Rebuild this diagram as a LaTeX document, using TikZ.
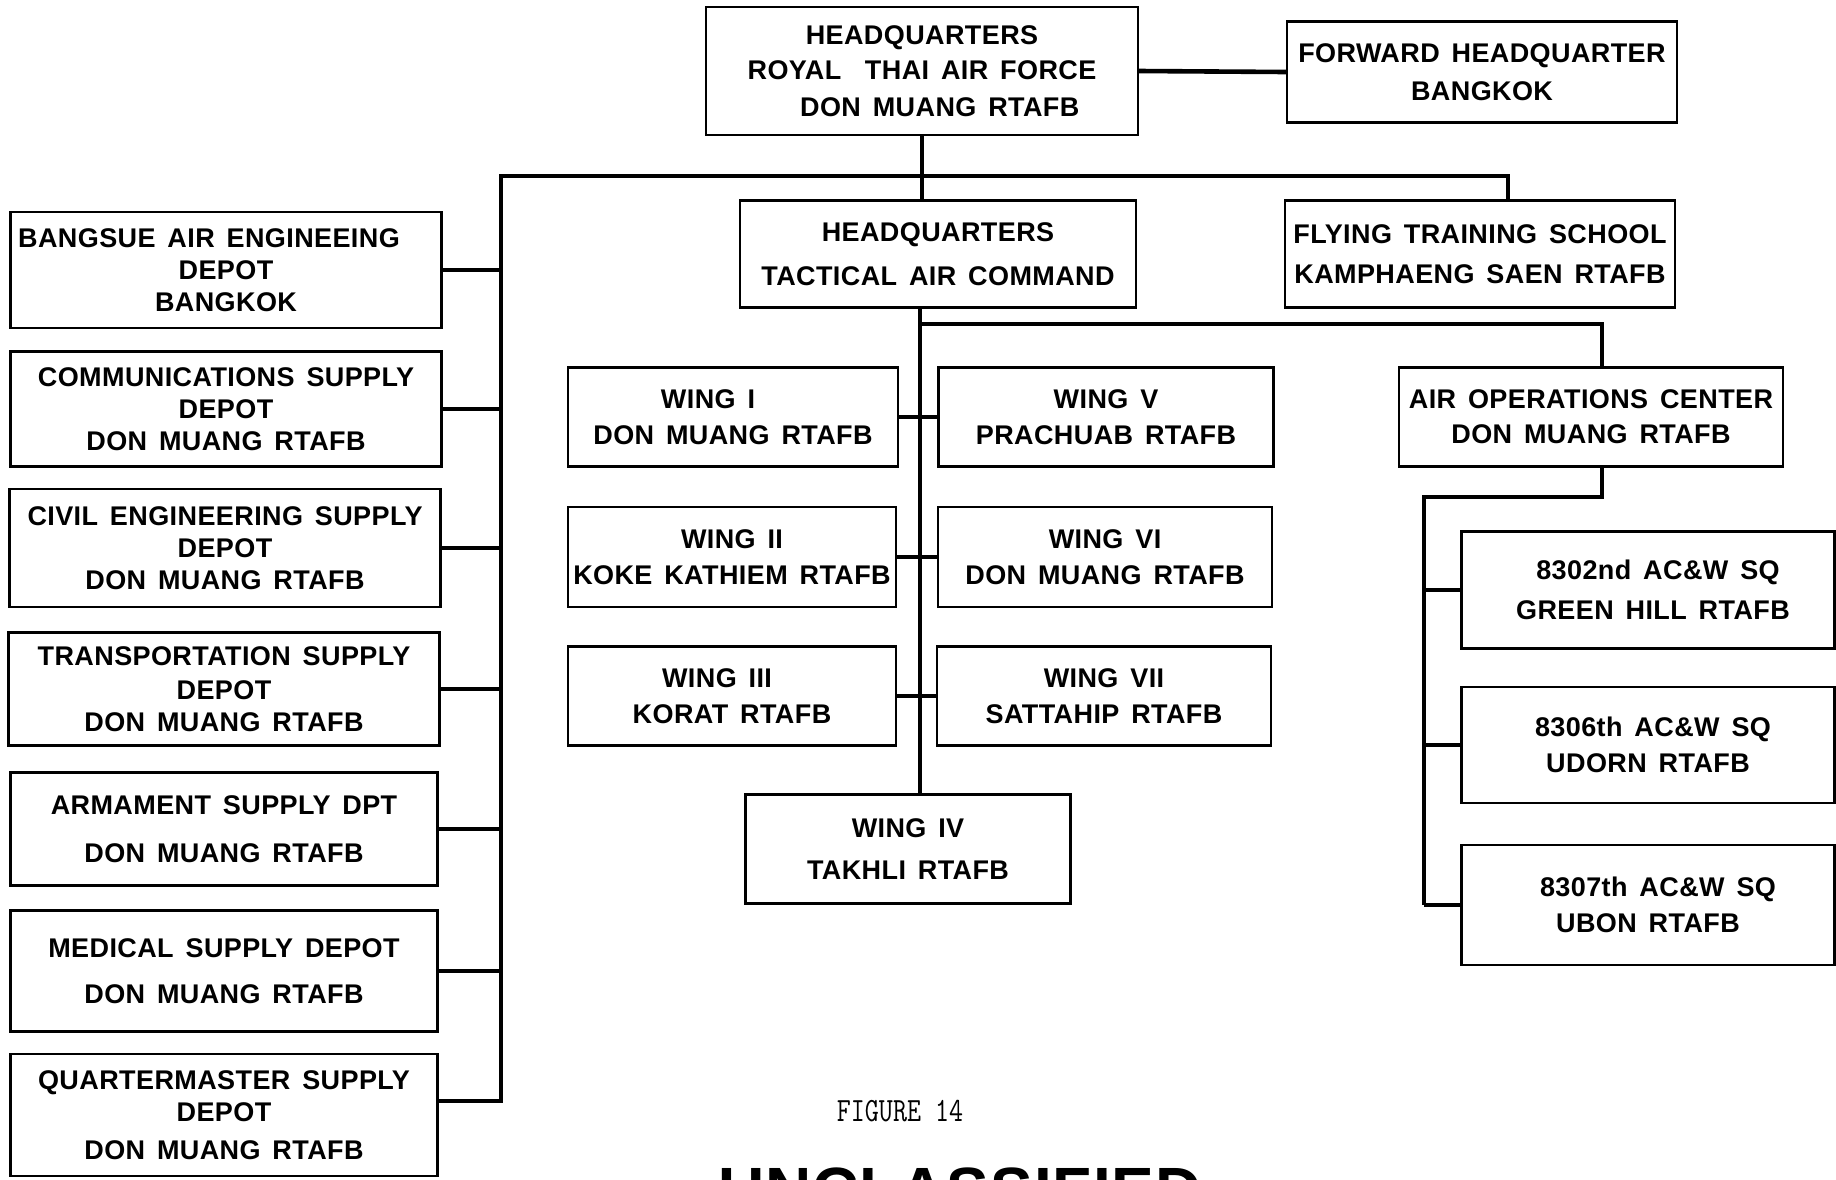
\documentclass[tikz,border=0pt]{standalone}
\usepackage{fontspec}
\setmainfont{Liberation Sans}[WordSpace=1.5, LetterSpace=1.5]
\begin{document}
\begin{tikzpicture}[
  x=1pt, y=-1pt,
  unit/.style={
    draw,
    line width=2.4pt,
    inner sep=0pt,
    align=center,
    font=\fontsize{27}{32}\selectfont\bfseries
  },
  depot/.style={unit, minimum width=431, minimum height=115},
  wing/.style={unit, minimum width=330, minimum height=99},
  squad/.style={unit, minimum width=373, minimum height=117},
  link/.style={line width=4.6pt, line join=miter}
]
\useasboundingbox[fill=white] (0,0) rectangle (1836,1179);
% top level
\node[unit, minimum width=432, minimum height=128] (hq) at (922,71)
  {HEADQUARTERS\\[3pt]ROYAL\ \ THAI AIR FORCE\\[5pt]\ \ \ DON MUANG RTAFB};
\node[unit, minimum width=390, minimum height=101] (fwd) at (1482,72)
  {FORWARD HEADQUARTER\\[6pt]BANGKOK};
\node[unit, minimum width=396, minimum height=107] (tac) at (938,254)
  {HEADQUARTERS\\[12pt]TACTICAL AIR COMMAND};
\node[unit, minimum width=390, minimum height=107] (fts) at (1480,254)
  {FLYING TRAINING SCHOOL\\[8pt]KAMPHAENG SAEN RTAFB};
% depots
\node[depot, minimum height=116] (bangsue) at (226,270)
  {BANGSUE AIR ENGINEEING\hspace*{34pt}\\DEPOT\\BANGKOK};
\node[depot] (comm) at (226,409)
  {COMMUNICATIONS SUPPLY\\DEPOT\\DON MUANG RTAFB};
\node[depot, minimum height=118] (civil) at (225,548)
  {CIVIL ENGINEERING SUPPLY\\DEPOT\\DON MUANG RTAFB};
\node[depot, minimum height=113] (trans) at (224,689)
  {TRANSPORTATION SUPPLY\\[2pt]DEPOT\\DON MUANG RTAFB};
\node[depot, minimum width=427, minimum height=113] (arm) at (224,829)
  {ARMAMENT SUPPLY DPT\\[16pt]DON MUANG RTAFB};
\node[depot, minimum width=427, minimum height=121] (med) at (224,971)
  {MEDICAL SUPPLY DEPOT\\[14pt]DON MUANG RTAFB};
\node[depot, minimum width=427, minimum height=122] (qm) at (224,1115)
  {QUARTERMASTER SUPPLY\\DEPOT\\[6pt]DON MUANG RTAFB};
% wings
\node[wing] (wing1) at (733,417) {WING I\hspace*{50pt}\\[4pt]DON MUANG RTAFB};
\node[wing, minimum width=335] (wing5) at (1106,417) {WING V\\[4pt]PRACHUAB RTAFB};
\node[wing, minimum width=328, minimum height=100] (wing2) at (732,557) {WING II\\[4pt]KOKE KATHIEM RTAFB};
\node[wing, minimum width=334, minimum height=100] (wing6) at (1105,557) {WING VI\\[4pt]DON MUANG RTAFB};
\node[wing, minimum width=328] (wing3) at (732,696) {WING III\hspace*{30pt}\\[4pt]KORAT RTAFB};
\node[wing, minimum width=334] (wing7) at (1104,696) {WING VII\\[4pt]SATTAHIP RTAFB};
\node[wing, minimum width=325, minimum height=109] (wing4) at (908,849) {WING IV\\[10pt]TAKHLI RTAFB};
% air operations
\node[unit, minimum width=384, minimum height=99] (aoc) at (1591,417)
  {AIR OPERATIONS CENTER\\[3pt]DON MUANG RTAFB};
\node[squad] (sq8302) at (1648,590) {\hspace*{20pt}8302nd AC\&W SQ\\[8pt]\hspace*{10pt}GREEN HILL RTAFB};
\node[squad, minimum height=116] (sq8306) at (1648,745) {\hspace*{10pt}8306th AC\&W SQ\\[4pt]UDORN RTAFB};
\node[squad, minimum height=120] (sq8307) at (1648,905) {\hspace*{20pt}8307th AC\&W SQ\\[4pt]UBON RTAFB};
% connectors
\coordinate (busL) at (501,176);
\coordinate (busR) at (1508,176);
\coordinate (qmjoin) at (438,1101);
\coordinate (trunk) at (920,307);
\coordinate (aocdrop) at (1602,324);
\coordinate (sqbus) at (1424,497);
\draw[link] (hq.east) -- (fwd.west);
\draw[link] (hq.south) -- (hq.south |- tac.north);
\draw[link] (busR |- fts.north) -- (busR) -- (busL) -- (busL |- qmjoin) -- (qmjoin);
\foreach \d in {bangsue,comm,civil,trans,arm,med}
  \draw[link] (\d.east) -- (\d.east -| busL);
\draw[link] (trunk) -- (trunk |- wing4.north);
\foreach \l/\r in {wing1/wing5,wing2/wing6,wing3/wing7}
  \draw[link] (\l.east) -- (\r.west);
\draw[link] (trunk |- aocdrop) -- (aocdrop) -- (aocdrop |- aoc.north);
\draw[link] (aocdrop |- aoc.south) -- (aocdrop |- sqbus) -- (sqbus) -- (sqbus |- sq8307.west);
\foreach \s in {sq8302,sq8306,sq8307}
  \draw[link] (\s.west) -- (\s.west -| sqbus);
% caption
\node[font=\fontsize{34}{34}\selectfont\ttfamily, xscale=0.8] (fig) at (900,1111) {FIGURE 14};
\begin{scope}
  \clip (0,0) rectangle (1836,1179);
  \node[anchor=base, font=\fontsize{64}{64}\selectfont\bfseries] (uncl) at (960,1212) {UNCLASSIFIED};
\end{scope}
\end{tikzpicture}
\end{document}
